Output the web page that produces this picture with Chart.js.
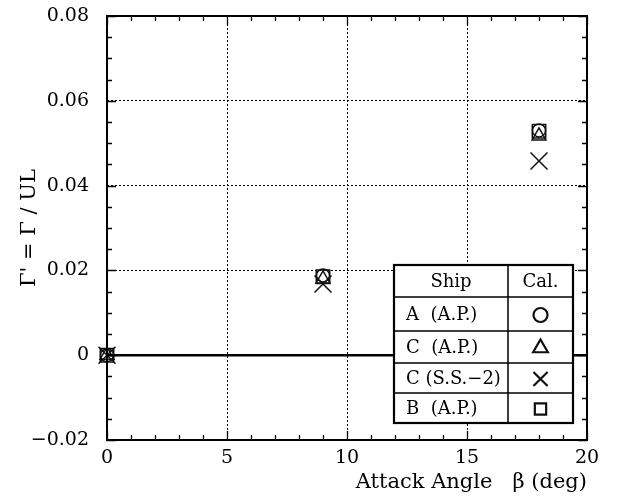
<!DOCTYPE html>
<html>
<head>
<meta charset="utf-8">
<script src="https://cdn.jsdelivr.net/npm/chart.js@4/dist/chart.umd.min.js"></script>
<style>
  html, body { margin: 0; padding: 0; background: #fff; }
  #chart { display: block; }
</style>
</head>
<body>
<canvas id="chart" width="618" height="497"></canvas>
<script>
// DATA
const attackAngles = [0, 9, 18];
const shipA_AP = [0, 0.0188, 0.0530];
const shipC_AP = [0, 0.0180, 0.0517];
const shipC_SS2 = [0, 0.0168, 0.0458];
const shipB_AP = [0, 0.0185, 0.0528];
const seriesNames = ["A  (A.P.)", "C  (A.P.)", "C (S.S.\u22122)", "B  (A.P.)"];
const seriesStyles = ["circle", "triangle", "crossRot", "rect"];
const seriesRadius = [6.5, 8, 12, 9.5];
const zeroLineX = [0, 20];
const zeroLineY = [0, 0];

const FONT = "'DejaVu Serif', 'Liberation Serif', serif";

const toPoints = (xs, ys) => xs.map((x, i) => ({ x, y: ys[i] }));

const seriesValues = [shipA_AP, shipC_AP, shipC_SS2, shipB_AP];
const datasets = [
    {
        type: "line",
        label: "zero",
        data: toPoints(zeroLineX, zeroLineY),
        borderColor: "#000",
        borderWidth: 2.5,
        pointRadius: 0,
        showLine: true,
    },
];
seriesValues.forEach((values, i) => {
    datasets.push({
        label: seriesNames[i],
        data: toPoints(attackAngles, values),
        pointStyle: seriesStyles[i],
        pointRadius: seriesRadius[i],
        pointBorderWidth: 1.5,
        borderColor: "#111",
        backgroundColor: "rgba(0,0,0,0)",
        showLine: false,
        clip: false,
    });
});

// frame, inward ticks and the legend table
const framePlugin = {
    id: "frame",
    afterDraw(chart) {
        const { ctx, chartArea: a } = chart;
        const xs = chart.scales.x;
        const ys = chart.scales.y;
        ctx.save();
        ctx.strokeStyle = "#000";

        // minor + major ticks, all four sides
        ctx.lineWidth = 1.3;
        for (let v = 0; v <= 20; v += 1) {
            const px = Math.round(xs.getPixelForValue(v)) + 0.5;
            const len = v % 5 === 0 ? 9 : 5;
            ctx.beginPath();
            ctx.moveTo(px, a.bottom); ctx.lineTo(px, a.bottom - len);
            ctx.moveTo(px, a.top); ctx.lineTo(px, a.top + len);
            ctx.stroke();
        }
        for (let k = -4; k <= 16; k++) {
            const v = k * 0.005;
            const py = Math.round(ys.getPixelForValue(v)) + 0.5;
            const len = k % 4 === 0 ? 9 : 5;
            ctx.beginPath();
            ctx.moveTo(a.left, py); ctx.lineTo(a.left + len, py);
            ctx.moveTo(a.right, py); ctx.lineTo(a.right - len, py);
            ctx.stroke();
        }

        // frame
        ctx.lineWidth = 2;
        ctx.strokeRect(a.left, a.top, a.right - a.left, a.bottom - a.top);

        // legend table
        const L = 394, R = 573, T = 265, B = 423, C = 508;
        const rows = [T, 297, 331, 363, 393, B];
        ctx.fillStyle = "#fff";
        ctx.fillRect(L, T, R - L, B - T);
        ctx.lineWidth = 1.5;
        ctx.beginPath();
        ctx.moveTo(C, T); ctx.lineTo(C, B);
        rows.slice(1, -1).forEach((r) => { ctx.moveTo(L, r); ctx.lineTo(R, r); });
        ctx.stroke();
        ctx.lineWidth = 2.2;
        ctx.strokeRect(L, T, R - L, B - T);

        ctx.fillStyle = "#000";
        ctx.font = "18px " + FONT;
        ctx.textBaseline = "middle";
        ctx.textAlign = "center";
        ctx.fillText("Ship", (L + C) / 2, (rows[0] + rows[1]) / 2 + 1);
        ctx.fillText("Cal.", (C + R) / 2, (rows[0] + rows[1]) / 2 + 1);
        ctx.textAlign = "left";
        seriesNames.forEach((name, i) => {
            const cy = (rows[i + 1] + rows[i + 2]) / 2 + 1;
            ctx.fillText(name, L + 12, cy);
            ctx.strokeStyle = "#111";
            ctx.fillStyle = "rgba(0,0,0,0)";
            Chart.helpers.drawPoint(ctx, {
                pointStyle: seriesStyles[i],
                radius: [7, 8.5, 10, 8][i],
                borderWidth: 1.2,
                rotation: 0,
            }, (C + R) / 2, cy);
            ctx.fillStyle = "#000";
        });
        ctx.restore();
    },
};

const fmt = (v) => {
    const r = Math.round(v * 1000) / 1000;
    if (r === 0) return "0";
    return (r < 0 ? "\u2212" : "") + Math.abs(r).toFixed(2);
};

new Chart(document.getElementById("chart"), {
    type: "scatter",
    data: { datasets },
    options: {
        responsive: false,
        devicePixelRatio: 1,
        animation: false,
        events: [],
        layout: { padding: { left: 0, right: 31, top: 16, bottom: 0 } },
        plugins: { legend: { display: false }, tooltip: { enabled: false } },
        scales: {
            x: {
                type: "linear",
                min: 0,
                max: 20,
                afterFit: (s) => {
                    s.height = 57;
                    s.paddingLeft = 0;
                    s.paddingRight = 0;
                },
                ticks: {
                    stepSize: 5,
                    color: "#000",
                    padding: 7,
                    font: { family: FONT, size: 19 },
                    callback: (v) => String(v),
                },
                grid: {
                    color: "#000",
                    lineWidth: 1,
                    drawTicks: false,
                },
                border: { display: false, dash: [2, 2] },
                title: {
                    display: true,
                    text: "Attack Angle   \u03b2 (deg)",
                    align: "end",
                    color: "#000",
                    font: { family: FONT, size: 21 },
                    padding: { top: 0, bottom: 2 },
                },
            },
            y: {
                type: "linear",
                min: -0.02,
                max: 0.08,
                afterFit: (s) => {
                    s.width = 107;
                    s.paddingTop = 0;
                    s.paddingBottom = 0;
                },
                ticks: {
                    stepSize: 0.02,
                    color: "#000",
                    padding: 18,
                    font: { family: FONT, size: 19 },
                    callback: (v) => fmt(v),
                },
                grid: {
                    color: "#000",
                    lineWidth: 1,
                    drawTicks: false,
                },
                border: { display: false, dash: [2, 2] },
                title: {
                    display: true,
                    text: "\u0393' = \u0393 / UL",
                    color: "#000",
                    font: { family: FONT, size: 21 },
                    padding: { top: 17, bottom: 0 },
                },
            },
        },
    },
    plugins: [framePlugin],
});
</script>
</body>
</html>
